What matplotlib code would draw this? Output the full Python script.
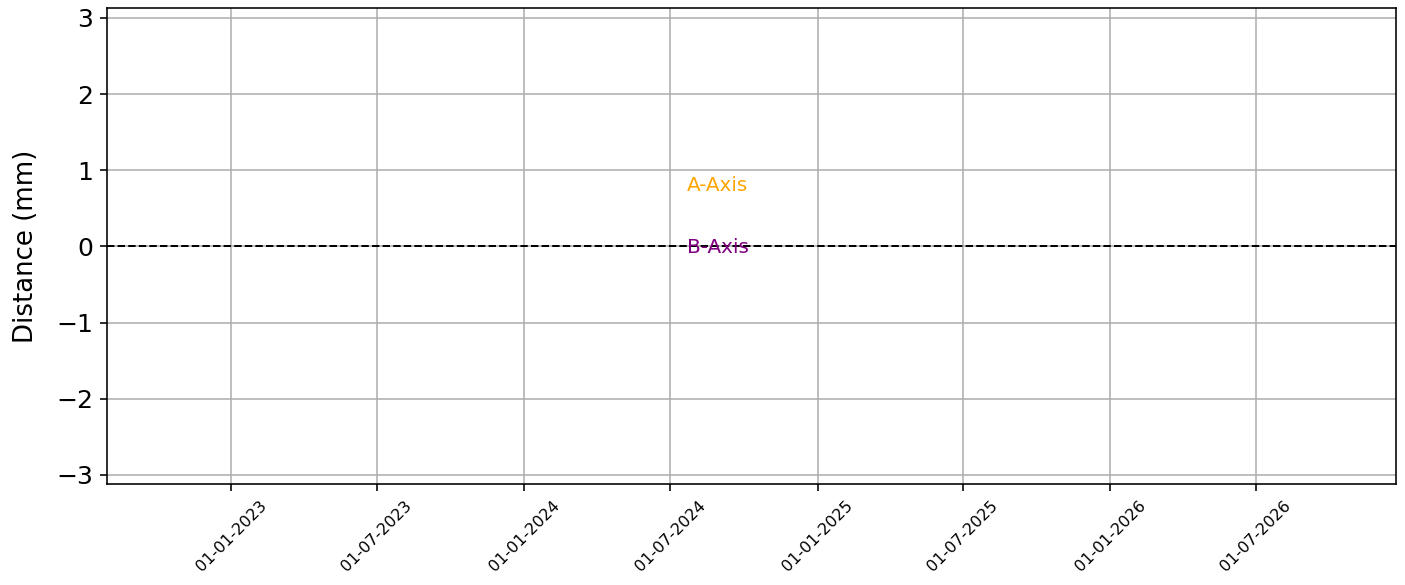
import matplotlib
matplotlib.use("Agg")
import matplotlib.pyplot as plt
import matplotlib.dates as mdates
import numpy as np
import pandas as pd

# Data
x_start = "2022-07-30"
x_end = "2026-12-23"
tick_dates = ["2023-01-01", "2023-07-01", "2024-01-01", "2024-07-01",
              "2025-01-01", "2025-07-01", "2026-01-01", "2026-07-01"]
y_ticks = [-3, -2, -1, 0, 1, 2, 3]
labels = ["A-Axis", "B-Axis"]
label_y = [0.8, -0.02]
label_colors = ["orange", "purple"]
baseline = 0.0

DPI = 144
fig = plt.figure(figsize=(1405 / DPI, 585 / DPI), dpi=DPI)
ax = fig.add_axes([0.0762, 0.1726, 0.9174, 0.8137])

ax.axhline(baseline, color="black", linestyle="--", linewidth=1.0)

for lab, yv, c in zip(labels, label_y, label_colors):
    ax.text(0.45, yv, lab, color=c, fontsize=10, ha="left", va="center",
            transform=ax.get_yaxis_transform())

ax.set_xlim(pd.Timestamp(x_start), pd.Timestamp(x_end))
ax.set_ylim(-3.12, 3.13)
ax.set_yticks(y_ticks)
ax.set_xticks([pd.Timestamp(d) for d in tick_dates])
ax.xaxis.set_major_formatter(mdates.DateFormatter("%d-%m-%Y"))
plt.setp(ax.get_xticklabels(), rotation=45, ha="center", fontsize=8)
ax.tick_params(axis="y", labelsize=12.5)
ax.set_ylabel("Distance (mm)", fontsize=13, labelpad=8.5)
ax.grid(True)

fig.savefig("out.png", dpi=DPI)
